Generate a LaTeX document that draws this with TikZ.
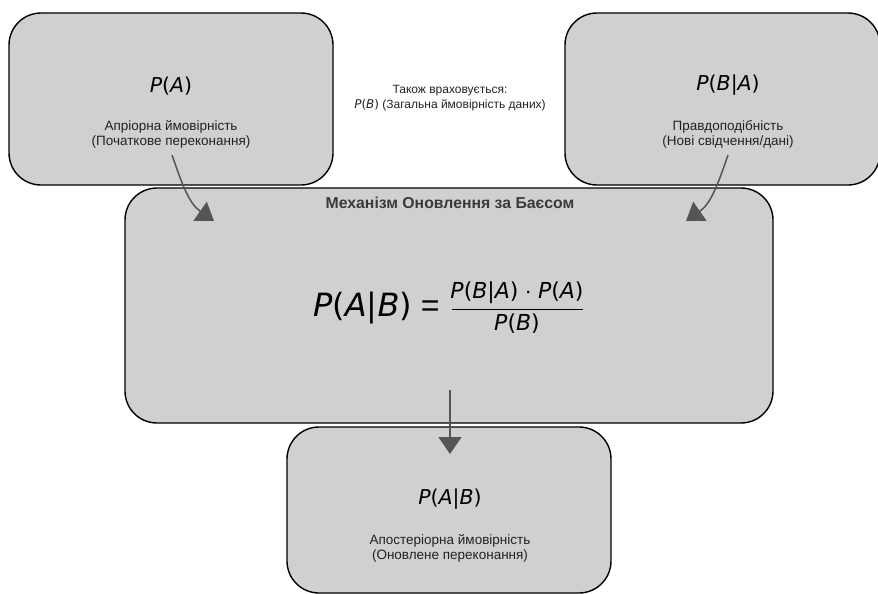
\documentclass[tikz,border=0pt]{standalone}
\usepackage{fontspec}
\setmainfont{Liberation Sans}
\newfontfamily\mathsans{DejaVu Sans}
\usetikzlibrary{arrows.meta}
\definecolor{boxfill}{HTML}{D0D0D0}
\definecolor{arrowgray}{HTML}{555555}
\definecolor{titlegray}{HTML}{3A3A3A}
\definecolor{labeltext}{HTML}{222222}
% italic variable and probability expression in a sans math look
\newcommand\mv[1]{{\itshape #1}}
\newcommand\prob[1]{{\mathsans\mv{P}(#1)}}
\begin{document}
\begin{tikzpicture}[x=1pt,y=1pt,
  box/.style={draw=black, line width=1.4pt, fill=boxfill, rounded corners=32pt, inner sep=0pt},
  sym/.style={inner sep=0pt, text=black},
  label/.style={inner sep=0pt, align=center, text=labeltext, font=\fontsize{13.5}{15}\selectfont},
  flow/.style={draw=arrowgray, line width=1.5pt, -{Triangle[length=17pt,width=23pt]}}
]
\useasboundingbox (0,0) rectangle (878,-594);
\clip (0,0) rectangle (878,-594);

% boxes
\node[box, minimum width=324pt, minimum height=172pt] (prior)  at (171,-99) {};
\node[box, minimum width=315pt, minimum height=172pt] (likeli) at (722.5,-99) {};
\node[box, minimum width=648pt, minimum height=235pt] (update) at (449,-305.5) {};
\node[box, minimum width=324pt, minimum height=166pt] (post)   at (449,-510) {};

% prior
\node[sym, font=\fontsize{20.5}{24}\selectfont] (priorsym) at (171,-86) {\prob{\mv{A}}};
\node[label] (priortxt) at (171,-134.5) {Апріорна ймовірність\\(Початкове переконання)};

% likelihood
\node[sym, font=\fontsize{20.5}{24}\selectfont] (likelisym) at (728,-85) {\prob{\mv{B}|\mv{A}}};
\node[label] (likelitxt) at (728,-134.5) {Правдоподібність\\(Нові свідчення/дані)};

% evidence note
\node[label, font=\fontsize{12}{14.5}\selectfont] (evid) at (450,-98)
  {Також враховується:\\\prob{\mv{B}} (Загальна ймовірність даних)};

% update mechanism
\node[inner sep=0pt, text=titlegray, font=\bfseries\fontsize{15.8}{18}\selectfont] (title) at (450,-203)
  {Механізм Оновлення за Баєсом};
\node[sym, anchor=base west, font=\fontsize{32}{36}\selectfont] (lhs) at (313,-316) {\prob{\mv{A}|\mv{B}} =};
\node[sym, anchor=base, font=\fontsize{22}{26}\selectfont] (num) at (517,-298) {\prob{\mv{B}|\mv{A}} · \prob{\mv{A}}};
\node[sym, anchor=base, font=\fontsize{22}{26}\selectfont] (den) at (517,-330) {\prob{\mv{B}}};
\draw[line width=1.3pt] (452,-309.5) -- (583,-309.5);

% posterior
\node[sym, font=\fontsize{20.5}{24}\selectfont] (postsym) at (450,-499) {\prob{\mv{A}|\mv{B}}};
\node[label] (posttxt) at (450,-548.5) {Апостеріорна ймовірність\\(Оновлене переконання)};

% flow arrows
\coordinate (priorout)  at (172,-155);
\coordinate (updinL)    at (214,-221);
\coordinate (likeliout) at (728,-155);
\coordinate (updinR)    at (686,-221);
\coordinate (updout)    at (450,-390);
\coordinate (postin)    at (450,-454);
\draw[flow] (priorout) to[out=-71, in=145] (updinL);
\draw[flow] (likeliout) to[out=-109, in=35] (updinR);
\draw[flow] (updout) -- (postin);
\end{tikzpicture}
\end{document}
